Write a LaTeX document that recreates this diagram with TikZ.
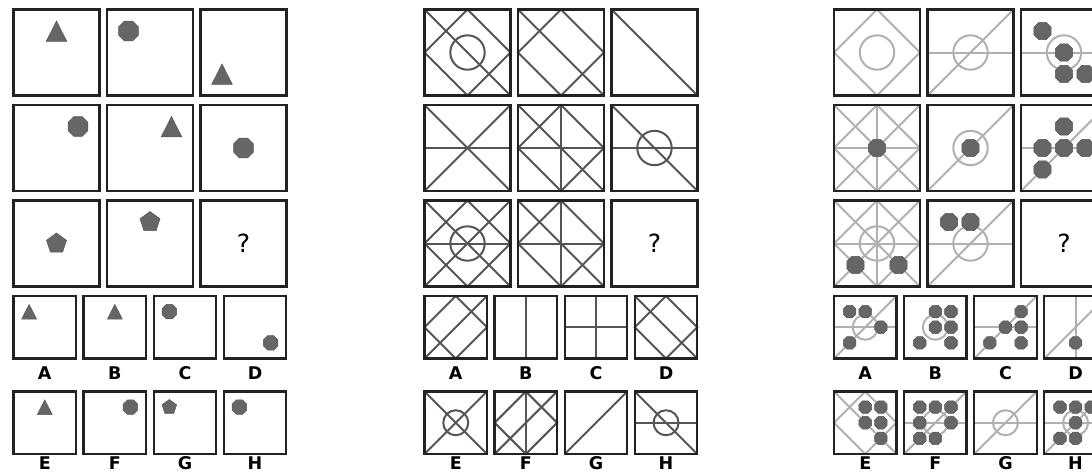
\documentclass[tikz,border=0pt]{standalone}
\usepackage{fontspec}
\setmainfont{DejaVu Sans}
\usepackage{xcolor}
\definecolor{framegray}{HTML}{222222}
\definecolor{midgray}{HTML}{555555}
\definecolor{palegray}{HTML}{B0B0B0}
\definecolor{shapegray}{HTML}{666666}
\tikzset{
  cellframe/.style = {draw=framegray, line width=2.3pt},
  midline/.style   = {draw=midgray, line width=2pt},
  paleline/.style  = {draw=palegray, line width=2pt},
  shp/.style       = {fill=shapegray, draw=shapegray!85!black, line width=0.5pt},
  qmark/.style     = {font=\fontsize{25}{25}\selectfont, inner sep=0pt},
  lbl/.style       = {font=\fontsize{17.5}{17.5}\selectfont\bfseries, inner sep=0pt, anchor=base},
  tri/.pic  = {\fill[shp] (-10.3pt,-10.3pt) -- (10.3pt,-10.3pt) -- (0pt,10pt) -- cycle;},
  oct/.pic  = {\fill[shp] (22.5:10.8pt) \foreach \k in {1,...,7}{ -- (22.5+45*\k:10.8pt)} -- cycle;},
  dot/.pic  = {\fill[shp] (22.5:9.4pt) \foreach \k in {1,...,7}{ -- (22.5+45*\k:9.4pt)} -- cycle;},
  pent/.pic = {\fill[shp] (90:10.5pt) \foreach \k in {1,...,4}{ -- (90+72*\k:10.5pt)} -- cycle;},
}
% one square of a puzzle: left, top, size, content
\newcommand{\panecell}[4]{%
  \begin{scope}[shift={(#1,#2)},x=#3pt,y=-#3pt,every pic/.style={scale=#3/86}]
    #4
    \draw[cellframe] (0,0) rectangle (1,1);
  \end{scope}}
\newcommand{\lnDia}{\draw[ln] (0.5,0) -- (1,0.5) -- (0.5,1) -- (0,0.5) -- cycle;}
\newcommand{\lnBack}{\draw[ln] (0,0) -- (1,1);}
\newcommand{\lnFwd}{\draw[ln] (0,1) -- (1,0);}
\newcommand{\lnHor}{\draw[ln] (0,0.5) -- (1,0.5);}
\newcommand{\lnVer}{\draw[ln] (0.5,0) -- (0.5,1);}
\newcommand{\lnRing}{\draw[ln] (0.5,0.5) circle[radius=0.2];}
\newcommand{\putdots}[1]{\foreach \px/\py in {#1} \pic at (\px,\py) {dot};}

\begin{document}
\begin{tikzpicture}[x=1pt,y=-1pt]
\useasboundingbox (0,0) rectangle (1092,472);
\clip (0,0) rectangle (1092,472);

% left puzzle: shapes
\panecell{13.5}{9.5}{86}{\pic at (0.5,0.25) {tri};}
\panecell{107}{9.5}{86}{\pic at (0.25,0.25) {oct};}
\panecell{200.5}{9.5}{86}{\pic at (0.25,0.75) {tri};}
\panecell{13.5}{105}{86}{\pic at (0.75,0.25) {oct};}
\panecell{107}{105}{86}{\pic at (0.75,0.25) {tri};}
\panecell{200.5}{105}{86}{\pic at (0.5,0.5) {oct};}
\panecell{13.5}{200.5}{86}{\pic at (0.5,0.5) {pent};}
\panecell{107}{200.5}{86}{\pic at (0.5,0.25) {pent};}
\panecell{200.5}{200.5}{86}{\node[qmark] (lftq) at (0.5,0.5) {?};}
\panecell{13.5}{296}{62.5}{\pic at (0.25,0.25) {tri};}
\panecell{83.6}{296}{62.5}{\pic at (0.5,0.25) {tri};}
\panecell{153.7}{296}{62.5}{\pic at (0.25,0.25) {oct};}
\panecell{223.8}{296}{62.5}{\pic at (0.75,0.75) {oct};}
\panecell{13.5}{391.5}{62.5}{\pic at (0.5,0.25) {tri};}
\panecell{83.6}{391.5}{62.5}{\pic at (0.75,0.25) {oct};}
\panecell{153.7}{391.5}{62.5}{\pic at (0.25,0.25) {pent};}
\panecell{223.8}{391.5}{62.5}{\pic at (0.25,0.25) {oct};}
\foreach \k/\t in {0/A,1/B,2/C,3/D}
  \node[lbl] (lft\t) at (44.75+70.1*\k,379) {\t};
\foreach \k/\t in {0/E,1/F,2/G,3/H}
  \node[lbl] (lft\t) at (44.75+70.1*\k,469.3) {\t};

% middle puzzle: lines
\begin{scope}[ln/.style={midline}]
\panecell{424.5}{9.5}{86}{\lnDia\lnBack\lnRing}
\panecell{518}{9.5}{86}{\lnDia\lnBack}
\panecell{611.5}{9.5}{86}{\lnBack}
\panecell{424.5}{105}{86}{\lnBack\lnFwd\lnHor}
\panecell{518}{105}{86}{\lnDia\lnBack\lnVer\lnHor}
\panecell{611.5}{105}{86}{\lnBack\lnHor\lnRing}
\panecell{424.5}{200.5}{86}{\lnDia\lnBack\lnFwd\lnHor\lnRing}
\panecell{518}{200.5}{86}{\lnDia\lnBack\lnVer\lnHor}
\panecell{611.5}{200.5}{86}{\node[qmark] (midq) at (0.5,0.5) {?};}
\panecell{424.5}{296}{62.5}{\lnDia\lnFwd}
\panecell{494.6}{296}{62.5}{\lnVer}
\panecell{564.7}{296}{62.5}{\lnVer\lnHor}
\panecell{634.8}{296}{62.5}{\lnDia\lnBack}
\panecell{424.5}{391.5}{62.5}{\lnBack\lnFwd\lnRing}
\panecell{494.6}{391.5}{62.5}{\lnDia\lnFwd\lnVer}
\panecell{564.7}{391.5}{62.5}{\lnFwd}
\panecell{634.8}{391.5}{62.5}{\lnBack\lnHor\lnRing}
\end{scope}
\foreach \k/\t in {0/A,1/B,2/C,3/D}
  \node[lbl] (mid\t) at (455.75+70.1*\k,379) {\t};
\foreach \k/\t in {0/E,1/F,2/G,3/H}
  \node[lbl] (mid\t) at (455.75+70.1*\k,469.3) {\t};

% right puzzle: pale lines and dots
\begin{scope}[ln/.style={paleline}]
\panecell{834}{9.5}{86}{\lnDia\lnRing}
\panecell{927.5}{9.5}{86}{\lnHor\lnFwd\lnRing}
\panecell{1021}{9.5}{86}{\lnHor\lnRing\putdots{.25/.25,.5/.5,.5/.75,.75/.75}}
\panecell{834}{105}{86}{\lnDia\lnBack\lnFwd\lnVer\lnHor\putdots{.5/.5}}
\panecell{927.5}{105}{86}{\lnFwd\lnRing\putdots{.5/.5}}
\panecell{1021}{105}{86}{\lnHor\lnFwd\putdots{.5/.25,.25/.5,.5/.5,.75/.5,.25/.75}}
\panecell{834}{200.5}{86}{\lnDia\lnBack\lnFwd\lnVer\lnHor\lnRing\putdots{.25/.75,.75/.75}}
\panecell{927.5}{200.5}{86}{\lnHor\lnFwd\lnRing\putdots{.25/.25,.5/.25}}
\panecell{1021}{200.5}{86}{\node[qmark] (rgtq) at (0.5,0.5) {?};}
\panecell{834}{296}{62.5}{\lnHor\lnFwd\lnRing\putdots{.25/.25,.5/.25,.75/.5,.25/.75}}
\panecell{904.1}{296}{62.5}{\lnRing\putdots{.5/.25,.75/.25,.5/.5,.75/.5,.25/.75,.75/.75}}
\panecell{974.2}{296}{62.5}{\lnHor\lnFwd\putdots{.75/.25,.5/.5,.75/.5,.25/.75,.75/.75}}
\panecell{1044.3}{296}{62.5}{\lnVer\lnFwd\putdots{.5/.75}}
\panecell{834}{391.5}{62.5}{\lnDia\lnBack\putdots{.5/.25,.75/.25,.5/.5,.75/.5,.75/.75}}
\panecell{904.1}{391.5}{62.5}{\lnHor\lnFwd\lnRing\putdots{.25/.25,.5/.25,.75/.25,.25/.5,.75/.5,.25/.75,.5/.75}}
\panecell{974.2}{391.5}{62.5}{\lnHor\lnFwd\lnRing}
\panecell{1044.3}{391.5}{62.5}{\lnHor\lnFwd\lnRing\putdots{.25/.25,.5/.25,.75/.25,.5/.5,.25/.75,.5/.75}}
\end{scope}
\foreach \k/\t in {0/A,1/B,2/C,3/D}
  \node[lbl] (rgt\t) at (865.25+70.1*\k,379) {\t};
\foreach \k/\t in {0/E,1/F,2/G,3/H}
  \node[lbl] (rgt\t) at (865.25+70.1*\k,469.3) {\t};
\end{tikzpicture}
\end{document}
